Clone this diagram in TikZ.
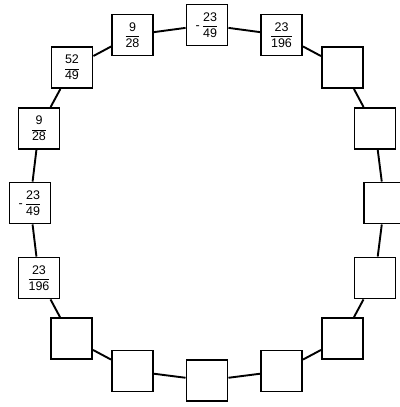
\documentclass[tikz,border=0pt]{standalone}
\usepackage{fontspec}
\setmainfont{Liberation Sans}
\newcommand{\fr}[2]{$\displaystyle\frac{\hbox{#1}}{\hbox{#2}}$}
\begin{document}
\begin{tikzpicture}[x=1pt,y=-1pt,
  cell/.style={draw, line width=1.9pt, minimum size=41pt, inner sep=0pt, font=\fontsize{12.5}{13}\selectfont, fill=white},
  link/.style={line width=1.9pt}]
\useasboundingbox (0,0) rectangle (399,407);
\node[cell] (n1) at (207,25) {-\,\fr{23}{49}};
\node[cell] (n2) at (281.5,35) {\fr{23}{196}};
\node[cell] (n3) at (342.5,67.5) {};
\node[cell] (n4) at (375,128.5) {};
\node[cell] (n5) at (384.5,203) {};
\node[cell] (n6) at (375,278) {};
\node[cell] (n7) at (342.5,338.5) {};
\node[cell] (n8) at (281.5,371) {};
\node[cell] (n9) at (207,380.5) {};
\node[cell] (n10) at (132.5,371) {};
\node[cell] (n11) at (71.5,338.5) {};
\node[cell] (n12) at (39,278) {\fr{23}{196}};
\node[cell] (n13) at (30,203) {-\,\fr{23}{49}};
\node[cell] (n14) at (39,128.5) {\fr{9}{28}};
\node[cell] (n15) at (72,67.5) {\fr{52}{49}};
\node[cell] (n16) at (132.5,35) {\fr{9}{28}};
\foreach \a/\b in {n1/n2,n2/n3,n3/n4,n4/n5,n5/n6,n6/n7,n7/n8,n8/n9,n9/n10,n10/n11,n11/n12,n12/n13,n13/n14,n14/n15,n15/n16,n16/n1}
  \draw[link] (\a) -- (\b);
\end{tikzpicture}
\end{document}
